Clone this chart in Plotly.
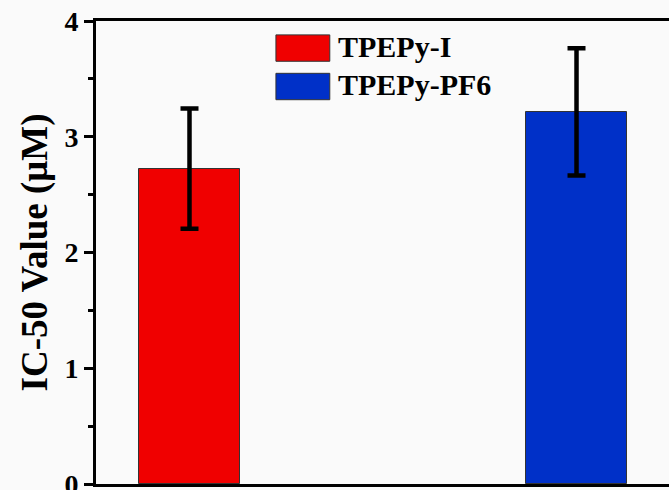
import plotly.graph_objects as go

categories = ["TPEPy-I", "TPEPy-PF6"]
values = [2.725, 3.215]
errors = [0.52, 0.55]
colors = ["#F00000", "#0030C8"]
y_ticks = [0, 1, 2, 3, 4]

FONT = "Liberation Serif"

fig = go.Figure()
for i, (name, v, e, c) in enumerate(zip(categories, values, errors, colors)):
    fig.add_trace(go.Bar(
        x=[i], y=[v], name=name, width=0.261,
        marker=dict(color=c, line=dict(color="#333333", width=1)),
        error_y=dict(type="data", array=[e], visible=True, color="black",
                     thickness=4.5, width=9),
        showlegend=False,
    ))

# manual legend with large swatches (paper coordinates)
swatch_tops = [0.970, 0.887]
swatch_h = 0.057
for name, c, yt in zip(categories, colors, swatch_tops):
    fig.add_shape(type="rect", xref="paper", yref="paper",
                  x0=0.314, x1=0.408, y0=yt - swatch_h, y1=yt,
                  fillcolor=c, line=dict(color="#333333", width=1))
    fig.add_annotation(text=name, xref="paper", yref="paper",
                       x=0.418, y=yt - swatch_h / 2 + 0.004, xanchor="left", yanchor="middle",
                       showarrow=False,
                       font=dict(family=FONT, size=30, color="black", weight="bold"))

fig.update_layout(
    width=669, height=490,
    margin=dict(l=96, r=0, t=21, b=6, autoexpand=False),
    paper_bgcolor="#fafafa", plot_bgcolor="#fafafa",
    bargap=0,
    xaxis=dict(range=[-0.2416, 1.239], showticklabels=False, ticks="",
               showgrid=False, zeroline=False, showline=True, linecolor="black",
               linewidth=3, mirror=True, automargin=False),
    yaxis=dict(range=[0, 4], tickvals=y_ticks, ticktext=[str(t) for t in y_ticks],
               ticks="outside", ticklen=9, tickwidth=3, tickcolor="black",
               ticklabeloverflow="allow", automargin=False,
               minor=dict(dtick=0.5, ticks="outside", ticklen=5, tickwidth=3,
                          tickcolor="black", showgrid=False),
               showgrid=False, zeroline=False, showline=True, linecolor="black",
               linewidth=3,
               tickfont=dict(family=FONT, size=28, color="black", weight="bold"),
               title=dict(text="IC-50 Value (μM)", standoff=6,
                          font=dict(family=FONT, size=37, color="black", weight="bold"))),
)

fig.write_html("out.html", config={"displayModeBar": False},
               post_script="document.body.style.margin='0';")
